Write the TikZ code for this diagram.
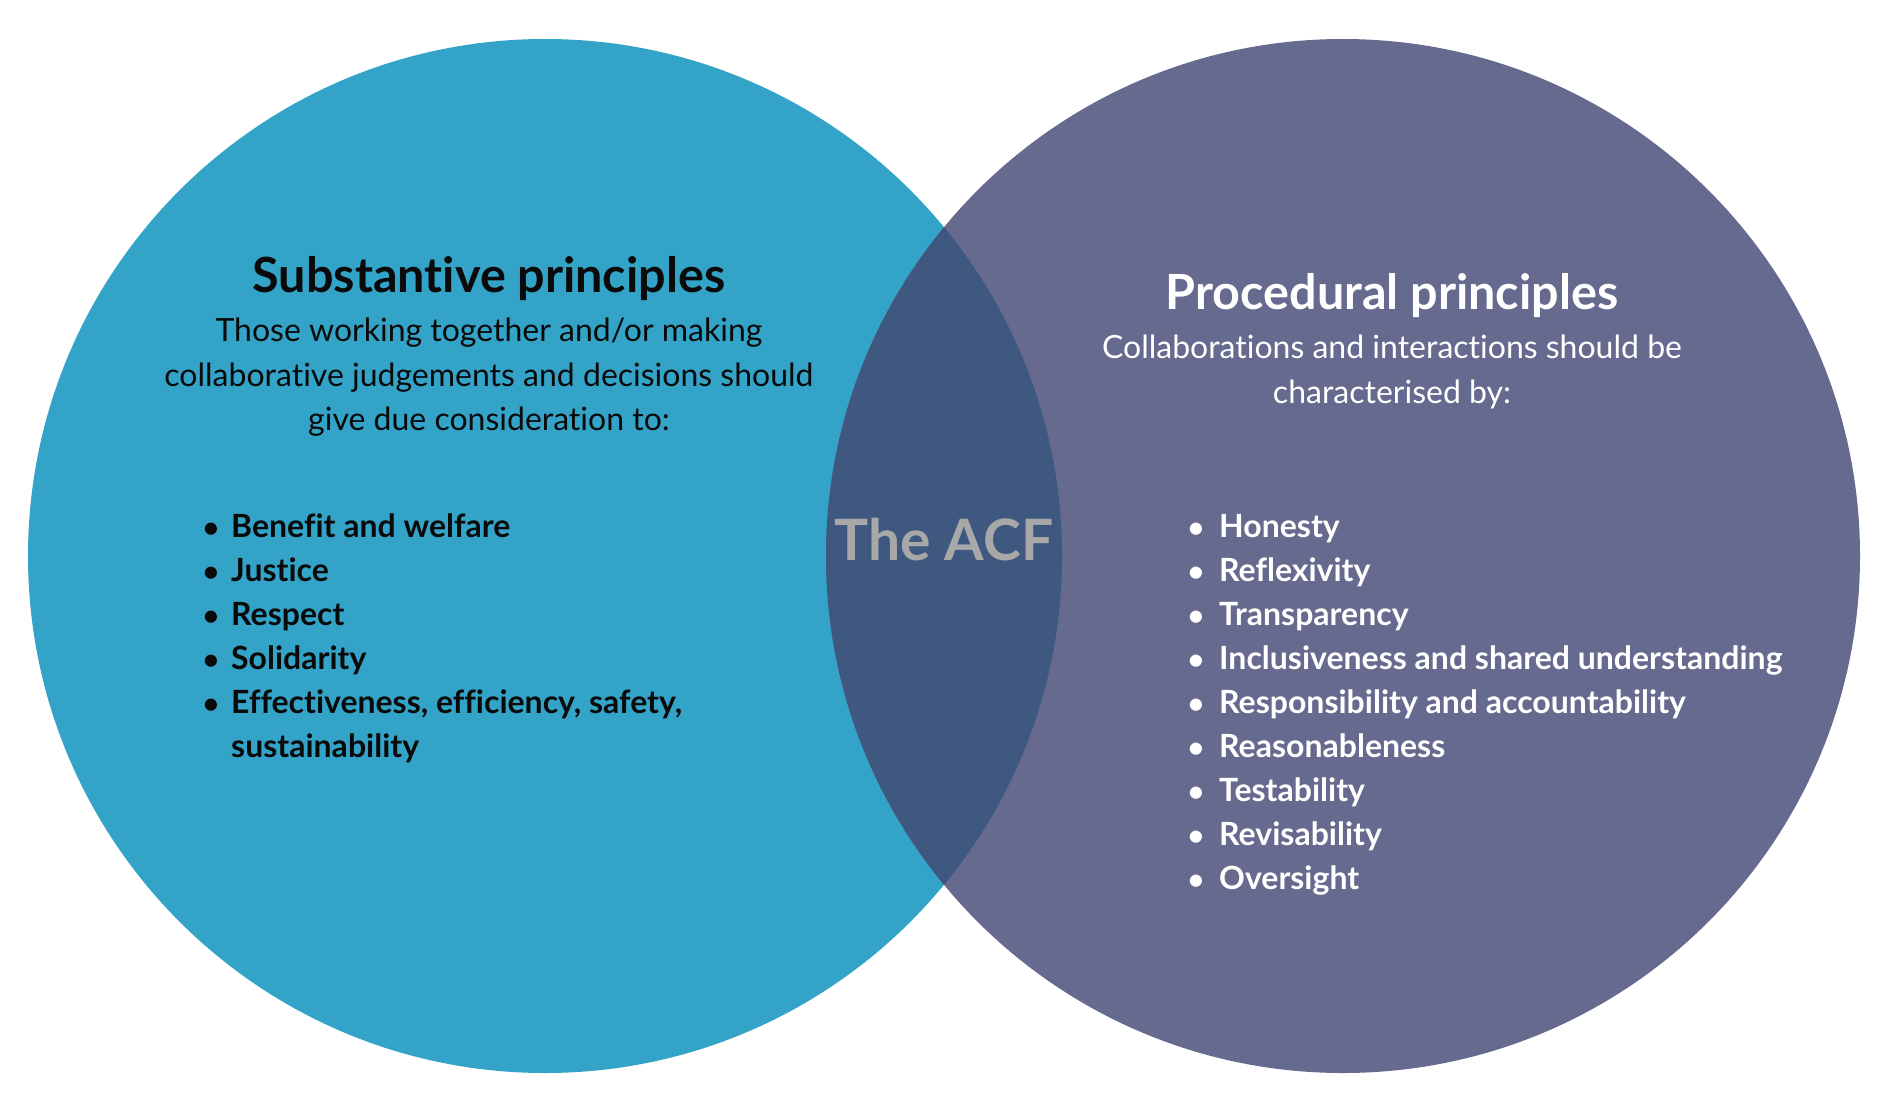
\documentclass[tikz,border=0pt]{standalone}
\usepackage{fontspec}
\setmainfont{Lato}[Ligatures={NoCommon}]
\definecolor{leftc}{HTML}{33A3C8}
\definecolor{rightc}{HTML}{666A8E}
\definecolor{overc}{HTML}{3E5880}
\definecolor{acfc}{HTML}{A8A8A8}
\definecolor{darktext}{HTML}{0A0A0A}
\tikzset{
  titletext/.style={anchor=base, inner sep=0pt, font=\bfseries\fontsize{48.5}{56}\selectfont},
  subtext/.style={anchor=base, inner sep=0pt, font=\fontsize{32}{38}\selectfont},
  itemtext/.style={anchor=base west, inner sep=0pt, font=\bfseries\fontsize{32}{38}\selectfont},
  bullettext/.style={anchor=base, inner sep=0pt, font=\bfseries\fontsize{28}{34}\selectfont},
}
\begin{document}
\begin{tikzpicture}[x=1pt,y=-1pt]
\useasboundingbox (0,0) rectangle (1890,1108);
\fill[white] (0,0) rectangle (1890,1108);
\fill[leftc] (545,556) circle (517pt);
\fill[rightc] (1343,556) circle (517pt);
\begin{scope}
  \clip (545,556) circle (517pt);
  \fill[overc] (1343,556) circle (517pt);
\end{scope}
% left texts
\node[titletext, text=darktext] (lt) at (489,292) {Substantive principles};
\node[subtext, text=darktext] (ls1) at (489,341) {Those working together and/or making};
\node[subtext, text=darktext] (ls2) at (489,386) {collaborative judgements and decisions should};
\node[subtext, text=darktext] (ls3) at (489,430) {give due consideration to:};
\foreach \t [count=\i] in {Benefit and welfare,Justice,Respect,Solidarity,{Effectiveness, efficiency, safety,}} {
  \pgfmathsetmacro\yy{537+44*(\i-1)}
  \node[bullettext, text=darktext] (lb\i) at (211,\yy) {\textbullet};
  \node[itemtext, text=darktext] (li\i) at (231,\yy) {\t};
}
\node[itemtext, text=darktext] (li6) at (231,757) {sustainability};
% centre
\node[anchor=base, inner sep=0pt, text=acfc, font=\bfseries\fontsize{57}{66}\selectfont] (acf) at (944,560) {The ACF};
% right texts
\node[titletext, text=white] (rt) at (1392,309) {Procedural principles};
\node[subtext, text=white] (rs1) at (1392,358) {Collaborations and interactions should be};
\node[subtext, text=white] (rs2) at (1392,403) {characterised by:};
\foreach \t [count=\i] in {Honesty,Reflexivity,Transparency,Inclusiveness and shared understanding,Responsibility and accountability,Reasonableness,Testability,Revisability,Oversight} {
  \pgfmathsetmacro\yy{537.5+44*(\i-1)}
  \node[bullettext, text=white] (rb\i) at (1196,\yy) {\textbullet};
  \node[itemtext, text=white] (ri\i) at (1219,\yy) {\t};
}
\end{tikzpicture}
\end{document}
